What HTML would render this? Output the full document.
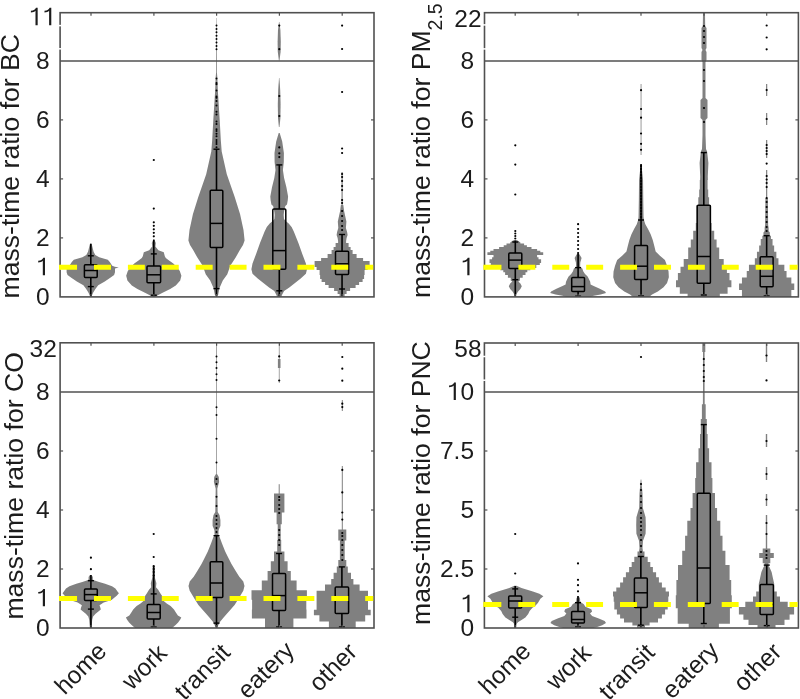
<!DOCTYPE html>
<html><head><meta charset="utf-8"><style>
html,body{margin:0;padding:0;background:#fff;}
svg{display:block;}
.t{font-family:"Liberation Sans",sans-serif;font-size:24.5px;fill:#1c1c1c;-webkit-font-smoothing:antialiased;}
.yl{font-size:26.6px;}
.xl{letter-spacing:0px;}
.sub{font-size:19.5px;}
</style></head><body>
<svg width="800" height="699" viewBox="0 0 800 699">
<rect width="800" height="699" fill="#fff"/>
<g opacity="0.999">
<path d="M90,243.8 L88,251.7 L86.3,255 L82.4,257.3 L73.8,259.7 L71.8,262 L69.4,265.7 L66.8,266.8 L62.8,267.6 L66.6,268.4 L66.6,272.2 L67.5,275 L71.3,277.8 L76.8,281.5 L83.4,285.2 L86.2,289 L88.5,292.7 L90,296.3 L91.6,296.3 L93.1,292.7 L95.4,289 L98.2,285.2 L104.8,281.5 L110.3,277.8 L114.1,275 L115,272.2 L115,268.4 L118.8,267.6 L114.8,266.8 L112.2,265.7 L109.8,262 L107.8,259.7 L99.2,257.3 L95.3,255 L93.6,251.7 L91.6,243.8Z" fill="#808080"/>
<path d="M153,240 L151.8,243 L152.2,246.5 L149.2,250.2 L143.8,252.2 L142.8,256.3 L141.8,258 L139.2,260 L134.3,263.6 L130.8,267 L127.8,270.9 L126.2,275.8 L127.4,280.6 L131.8,285.5 L137.4,289.1 L145,292.8 L149.8,295.2 L151.8,296.5 L155.8,296.5 L157.8,295.2 L162.6,292.8 L170.2,289.1 L175.8,285.5 L180.2,280.6 L181.4,275.8 L179.8,270.9 L176.8,267 L173.3,263.6 L168.4,260 L165.8,258 L164.8,256.3 L163.8,252.2 L158.4,250.2 L155.4,246.5 L155.8,243 L154.6,240Z" fill="#808080"/>
<path d="M216.3,18 L216.1,60.8 L216.1,72.6 L215.6,78 L215.2,90 L214.2,105.8 L213.3,120 L212.2,140 L211.3,151.4 L206.2,174.3 L198.2,197.2 L192.9,214.3 L189.5,230 L188.4,240.6 L190,245 L193,249.7 L197.2,257.2 L202.7,265.8 L205.7,274.3 L210.2,280.6 L213.5,288 L215,295.5 L218,295.5 L219.5,288 L222.8,280.6 L227.3,274.3 L230.3,265.8 L235.8,257.2 L240,249.7 L243,245 L244.6,240.6 L243.5,230 L240.1,214.3 L234.8,197.2 L226.8,174.3 L221.7,151.4 L220.8,140 L219.7,120 L218.8,105.8 L217.8,90 L217.4,78 L216.9,72.6 L216.9,60.8 L216.7,18Z" fill="#808080"/>
<path d="M279,22 L278,30 L277.6,42 L277.8,52 L278.9,60.5 L279.5,60.5 L280.6,52 L280.8,42 L280.4,30 L279.4,22Z" fill="#808080"/>
<path d="M279,78 L278.2,90 L277.8,104 L278,118 L278.9,127 L279.5,127 L280.4,118 L280.6,104 L280.2,90 L279.4,78Z" fill="#808080"/>
<path d="M278.7,133 L276.2,141.4 L274.5,152.9 L274.6,162 L275.5,170 L274.3,178 L272,187.2 L270.3,196.4 L270.6,200 L271.4,204.4 L273.1,206 L273.7,208.6 L274.4,212 L274.7,215 L274.4,219 L272.7,221 L269.7,223.4 L266.8,226.9 L264.6,231.4 L260,242.9 L256,254.3 L252.5,263.5 L251.4,269.2 L252.5,273.8 L257.7,278.4 L263.4,282.9 L269.1,287.5 L274.3,290.9 L276.2,294.4 L277.2,296.9 L281.2,296.9 L282.2,294.4 L284.1,290.9 L289.3,287.5 L295,282.9 L300.7,278.4 L305.9,273.8 L307,269.2 L305.9,263.5 L302.4,254.3 L298.4,242.9 L293.8,231.4 L291.6,226.9 L288.7,223.4 L285.7,221 L284,219 L283.7,215 L284,212 L284.7,208.6 L285.3,206 L287,204.4 L287.8,200 L288.1,196.4 L286.4,187.2 L284.1,178 L282.9,170 L283.8,162 L283.9,152.9 L282.2,141.4 L279.7,133Z" fill="#808080"/>
<rect x="341.5" y="172" width="1.2" height="34" fill="#808080"/>
<path d="M340.9,205 L340,211.4 L337.8,221.5 L338.3,228 L337.1,232 L336.6,235 L337.6,238 L338.1,241 L338.1,241 L338.1,243 L335.6,243 L335.6,247 L333.6,247 L333.6,250 L331.6,250 L331.6,254 L327.6,254 L327.6,258 L321.1,258 L321.1,261 L314.6,261 L314.6,267 L316.6,267 L316.6,270 L319.6,270 L319.6,275 L320.1,275 L320.1,279 L321.6,279 L321.6,282 L325.1,282 L325.1,285 L328.6,285 L328.6,288 L334.1,288 L334.1,291 L337.6,291 L337.6,294 L339.6,294 L339.6,296.9 L344.6,296.9 L344.6,294 L346.6,294 L346.6,291 L350.1,291 L350.1,288 L355.6,288 L355.6,285 L359.1,285 L359.1,282 L362.6,282 L362.6,279 L364.1,279 L364.1,275 L364.6,275 L364.6,270 L367.6,270 L367.6,267 L369.6,267 L369.6,261 L363.1,261 L363.1,258 L356.6,258 L356.6,254 L352.6,254 L352.6,250 L350.6,250 L350.6,247 L348.6,247 L348.6,243 L346.1,243 L346.1,241 L346.1,241 L346.6,238 L347.6,235 L347.1,232 L345.9,228 L346.4,221.5 L344.2,211.4 L343.3,205Z" fill="#808080"/>
<line x1="90.8" y1="243.8" x2="90.8" y2="264.8" stroke="#000" stroke-width="1.6"/>
<line x1="90.8" y1="277.5" x2="90.8" y2="296" stroke="#000" stroke-width="1.6"/>
<line x1="87.8" y1="255.8" x2="93.8" y2="255.8" stroke="#000" stroke-width="1.4"/>
<line x1="87.8" y1="286.6" x2="93.8" y2="286.6" stroke="#000" stroke-width="1.4"/>
<rect x="84.4" y="264.8" width="12.8" height="12.7" rx="1" fill="none" stroke="#000" stroke-width="1.5"/>
<line x1="84.4" y1="270.5" x2="97.2" y2="270.5" stroke="#000" stroke-width="1.5"/>
<line x1="153.8" y1="239.5" x2="153.8" y2="266" stroke="#000" stroke-width="1.6"/>
<line x1="153.8" y1="282.8" x2="153.8" y2="296" stroke="#000" stroke-width="1.6"/>
<line x1="150.8" y1="253.9" x2="156.8" y2="253.9" stroke="#000" stroke-width="1.4"/>
<line x1="150.8" y1="295.2" x2="156.8" y2="295.2" stroke="#000" stroke-width="1.4"/>
<rect x="147" y="266" width="13.6" height="16.8" rx="1" fill="none" stroke="#000" stroke-width="1.5"/>
<line x1="147" y1="274.8" x2="160.6" y2="274.8" stroke="#000" stroke-width="1.5"/>
<line x1="216.5" y1="149.2" x2="216.5" y2="190.3" stroke="#000" stroke-width="1.6"/>
<line x1="216.5" y1="247.5" x2="216.5" y2="296" stroke="#000" stroke-width="1.6"/>
<line x1="213.5" y1="149.2" x2="219.5" y2="149.2" stroke="#000" stroke-width="1.4"/>
<line x1="213.5" y1="288.6" x2="219.5" y2="288.6" stroke="#000" stroke-width="1.4"/>
<rect x="210.2" y="190.3" width="12.6" height="57.2" rx="1" fill="none" stroke="#000" stroke-width="1.5"/>
<line x1="210.2" y1="223.4" x2="222.8" y2="223.4" stroke="#000" stroke-width="1.5"/>
<line x1="279.3" y1="164.9" x2="279.3" y2="208.9" stroke="#000" stroke-width="1.6"/>
<line x1="279.3" y1="269.2" x2="279.3" y2="296" stroke="#000" stroke-width="1.6"/>
<line x1="276.3" y1="164.9" x2="282.3" y2="164.9" stroke="#000" stroke-width="1.4"/>
<line x1="276.3" y1="290.8" x2="282.3" y2="290.8" stroke="#000" stroke-width="1.4"/>
<rect x="272.8" y="208.9" width="13" height="60.3" rx="1" fill="none" stroke="#000" stroke-width="1.5"/>
<line x1="272.8" y1="250.6" x2="285.8" y2="250.6" stroke="#000" stroke-width="1.5"/>
<line x1="342.05" y1="234.5" x2="342.05" y2="251.3" stroke="#000" stroke-width="1.6"/>
<line x1="342.05" y1="274.6" x2="342.05" y2="296" stroke="#000" stroke-width="1.6"/>
<line x1="339.05" y1="234.5" x2="345.05" y2="234.5" stroke="#000" stroke-width="1.4"/>
<line x1="339.05" y1="289" x2="345.05" y2="289" stroke="#000" stroke-width="1.4"/>
<rect x="335.5" y="251.3" width="13.1" height="23.3" rx="1" fill="none" stroke="#000" stroke-width="1.5"/>
<line x1="335.5" y1="263.8" x2="348.6" y2="263.8" stroke="#000" stroke-width="1.5"/>
<circle cx="153.8" cy="160" r="1.1" fill="#000"/>
<circle cx="153.8" cy="208.6" r="1.1" fill="#000"/>
<circle cx="153.8" cy="222.3" r="1.1" fill="#000"/>
<circle cx="153.8" cy="225.8" r="1.1" fill="#000"/>
<circle cx="153.8" cy="229.3" r="1.1" fill="#000"/>
<circle cx="153.8" cy="232.8" r="1.1" fill="#000"/>
<circle cx="153.8" cy="236.3" r="1.1" fill="#000"/>
<circle cx="216.5" cy="25.5" r="1" fill="#000"/>
<circle cx="216.5" cy="28.9" r="1" fill="#000"/>
<circle cx="216.5" cy="32.3" r="1" fill="#000"/>
<circle cx="216.5" cy="35.7" r="1" fill="#000"/>
<circle cx="216.5" cy="39.1" r="1" fill="#000"/>
<circle cx="216.5" cy="42.5" r="1" fill="#000"/>
<circle cx="216.5" cy="45.9" r="1" fill="#000"/>
<circle cx="216.5" cy="49.3" r="1" fill="#000"/>
<circle cx="216.5" cy="78.4" r="1" fill="#000"/>
<circle cx="216.5" cy="82.9" r="1" fill="#000"/>
<circle cx="216.5" cy="84.2" r="1" fill="#000"/>
<circle cx="216.5" cy="90.6" r="1" fill="#000"/>
<circle cx="216.5" cy="96.4" r="1" fill="#000"/>
<circle cx="216.5" cy="97.7" r="1" fill="#000"/>
<circle cx="216.5" cy="100.9" r="1" fill="#000"/>
<circle cx="216.5" cy="105.4" r="1" fill="#000"/>
<circle cx="216.5" cy="111.8" r="1" fill="#000"/>
<circle cx="216.5" cy="114.4" r="1" fill="#000"/>
<circle cx="216.5" cy="121.5" r="1" fill="#000"/>
<circle cx="216.5" cy="124" r="1" fill="#000"/>
<circle cx="216.5" cy="129.2" r="1" fill="#000"/>
<circle cx="216.5" cy="131.1" r="1" fill="#000"/>
<circle cx="216.5" cy="133.7" r="1" fill="#000"/>
<circle cx="216.5" cy="136.3" r="1" fill="#000"/>
<circle cx="216.5" cy="140.1" r="1" fill="#000"/>
<circle cx="216.5" cy="142.1" r="1" fill="#000"/>
<circle cx="216.5" cy="144" r="1" fill="#000"/>
<circle cx="216.5" cy="147.2" r="1" fill="#000"/>
<circle cx="279.3" cy="25.6" r="1.1" fill="#000"/>
<circle cx="279.3" cy="49.2" r="1.1" fill="#000"/>
<circle cx="279.3" cy="96" r="1.1" fill="#000"/>
<circle cx="279.3" cy="116" r="1.1" fill="#000"/>
<circle cx="279.3" cy="147.4" r="1.1" fill="#000"/>
<circle cx="279.3" cy="153.3" r="1.1" fill="#000"/>
<circle cx="279.3" cy="157.1" r="1.1" fill="#000"/>
<circle cx="342.1" cy="25.6" r="1.1" fill="#000"/>
<circle cx="342.1" cy="49" r="1.1" fill="#000"/>
<circle cx="342.1" cy="92" r="1.1" fill="#000"/>
<circle cx="342.1" cy="148.5" r="1.1" fill="#000"/>
<circle cx="342.1" cy="153" r="1.1" fill="#000"/>
<circle cx="342.1" cy="174" r="1.1" fill="#000"/>
<circle cx="342.1" cy="177" r="1.1" fill="#000"/>
<circle cx="342.1" cy="181" r="1.1" fill="#000"/>
<circle cx="342.1" cy="186" r="1.1" fill="#000"/>
<circle cx="342.1" cy="190" r="1.1" fill="#000"/>
<circle cx="342.1" cy="200" r="1.1" fill="#000"/>
<circle cx="342.1" cy="203" r="1.1" fill="#000"/>
<circle cx="342.1" cy="211" r="1.1" fill="#000"/>
<circle cx="342.1" cy="216" r="1.1" fill="#000"/>
<circle cx="342.1" cy="221" r="1.1" fill="#000"/>
<circle cx="342.1" cy="226" r="1.1" fill="#000"/>
<circle cx="342.1" cy="230" r="1.1" fill="#000"/>
<line x1="60.1" y1="60.9" x2="374" y2="60.9" stroke="#505050" stroke-width="1.5"/>
<line x1="60.1" y1="237.9" x2="63.1" y2="237.9" stroke="#505050" stroke-width="1.2"/>
<line x1="374" y1="237.9" x2="371" y2="237.9" stroke="#505050" stroke-width="1.2"/>
<line x1="60.1" y1="178.9" x2="63.1" y2="178.9" stroke="#505050" stroke-width="1.2"/>
<line x1="374" y1="178.9" x2="371" y2="178.9" stroke="#505050" stroke-width="1.2"/>
<line x1="60.1" y1="119.9" x2="63.1" y2="119.9" stroke="#505050" stroke-width="1.2"/>
<line x1="374" y1="119.9" x2="371" y2="119.9" stroke="#505050" stroke-width="1.2"/>
<line x1="91" y1="12.7" x2="91" y2="15.7" stroke="#505050" stroke-width="1.2"/>
<line x1="91" y1="296.9" x2="91" y2="293.9" stroke="#505050" stroke-width="1.2"/>
<line x1="153.9" y1="12.7" x2="153.9" y2="15.7" stroke="#505050" stroke-width="1.2"/>
<line x1="153.9" y1="296.9" x2="153.9" y2="293.9" stroke="#505050" stroke-width="1.2"/>
<line x1="216.6" y1="12.7" x2="216.6" y2="15.7" stroke="#505050" stroke-width="1.2"/>
<line x1="216.6" y1="296.9" x2="216.6" y2="293.9" stroke="#505050" stroke-width="1.2"/>
<line x1="279.4" y1="12.7" x2="279.4" y2="15.7" stroke="#505050" stroke-width="1.2"/>
<line x1="279.4" y1="296.9" x2="279.4" y2="293.9" stroke="#505050" stroke-width="1.2"/>
<line x1="342.2" y1="12.7" x2="342.2" y2="15.7" stroke="#505050" stroke-width="1.2"/>
<line x1="342.2" y1="296.9" x2="342.2" y2="293.9" stroke="#505050" stroke-width="1.2"/>
<rect x="60.1" y="12.7" width="313.9" height="284.2" fill="none" stroke="#505050" stroke-width="1.6"/>
<rect x="59" y="264.8" width="2" height="5" fill="#ffff00"/>
<line x1="60.1" y1="267.3" x2="373.2" y2="267.3" stroke="#ffff00" stroke-width="5" stroke-dasharray="16.95 16.95"/>
<rect x="58.6" y="24.85" width="3" height="1.5" fill="#fff"/>
<rect x="58.6" y="48.05" width="3" height="1.5" fill="#fff"/>
<text x="35.88" y="304.7" class="t">0</text>
<path d="M 44.99,275.2 L 44.99,257.83 L 43.28,257.83 C 42.86,259.4 41.15,260.7 38.21,260.87 L 38.21,262.46 C 40.29,262.46 41.88,261.85 42.81,260.87 L 42.81,275.2 Z" fill="#1c1c1c"/>
<text x="35.88" y="245.7" class="t">2</text>
<text x="35.88" y="186.7" class="t">4</text>
<text x="35.88" y="127.7" class="t">6</text>
<text x="35.88" y="68.6" class="t">8</text>
<path d="M 37.67,25.2 L 37.67,7.83 L 35.95,7.83 C 35.54,9.4 33.82,10.7 30.88,10.87 L 30.88,12.46 C 32.97,12.46 34.56,11.85 35.49,10.87 L 35.49,25.2 Z" fill="#1c1c1c"/>
<path d="M 51.29,25.2 L 51.29,7.83 L 49.58,7.83 C 49.16,9.4 47.45,10.7 44.51,10.87 L 44.51,12.46 C 46.59,12.46 48.18,11.85 49.11,10.87 L 49.11,25.2 Z" fill="#1c1c1c"/>
<text transform="translate(19.3,298.5) rotate(-90)" class="t yl">mass-time ratio for BC</text>
<path d="M514.5,240 L513,240.6 L510.2,242.4 L510.2,243.4 L506.5,243.4 L506.5,245.2 L503.7,245.2 L503.7,247.1 L499.1,247.1 L499.1,249 L493.5,249 L493.5,250.8 L490.3,250.8 L490.3,252.2 L487.4,252.2 L487.4,255 L493.5,255 L493.5,257.3 L492.1,257.3 L492.1,259.2 L489.5,259.2 L489.5,262.9 L490.8,262.9 L490.8,265 L494.3,265 L494.3,268 L500.3,268 L500.3,270.3 L503.3,270.3 L503.3,272.2 L505.1,272.2 L505.1,275 L507.9,275 L507.9,277.8 L510.7,277.8 L510.7,280.6 L512.3,281.5 L510.2,283.4 L508.8,286.2 L510.2,289 L512.7,291.7 L514.3,294.5 L514.7,296.5 L515.9,296.5 L516.3,294.5 L517.9,291.7 L520.4,289 L521.8,286.2 L520.4,283.4 L518.3,281.5 L519.9,280.6 L519.9,277.8 L522.7,277.8 L522.7,275 L525.5,275 L525.5,272.2 L527.3,272.2 L527.3,270.3 L530.3,270.3 L530.3,268 L536.3,268 L536.3,265 L539.8,265 L539.8,262.9 L541.1,262.9 L541.1,259.2 L538.5,259.2 L538.5,257.3 L537.1,257.3 L537.1,255 L543.2,255 L543.2,252.2 L540.3,252.2 L540.3,250.8 L537.1,250.8 L537.1,249 L531.5,249 L531.5,247.1 L526.9,247.1 L526.9,245.2 L524.1,245.2 L524.1,243.4 L520.4,243.4 L520.4,242.4 L517.6,240.6 L516.1,240Z" fill="#808080"/>
<path d="M577.5,253.8 L576.6,254.6 L574.6,258.1 L575.9,262.5 L576.1,266.9 L573.9,268.6 L573,271.2 L571.2,273.9 L568.6,276.5 L567.3,279.1 L566,281.7 L565.6,284.4 L562.5,286.1 L556.4,288.7 L551.1,291.4 L550.2,293.1 L555.5,294.4 L562.5,295.7 L566.1,296.9 L590.1,296.9 L593.7,295.7 L600.7,294.4 L606,293.1 L605.1,291.4 L599.8,288.7 L593.7,286.1 L590.6,284.4 L590.2,281.7 L588.9,279.1 L587.6,276.5 L585,273.9 L583.2,271.2 L582.3,268.6 L580.1,266.9 L580.3,262.5 L581.6,258.1 L579.6,254.6 L578.7,253.8Z" fill="#808080"/>
<path d="M640.75,164 L639.05,180 L638.85,200 L638.55,217 L638.15,220 L636.75,224.3 L634.35,228.6 L631.45,234.3 L629.35,240.1 L627.85,245.8 L626.45,251.5 L622.15,255.8 L617.15,260.1 L615.05,265.8 L613.55,271.5 L613.25,277.3 L615.05,283 L618.55,287.3 L624.25,291.6 L630.05,294.4 L633.05,296.9 L649.05,296.9 L652.05,294.4 L657.85,291.6 L663.55,287.3 L667.05,283 L668.85,277.3 L668.55,271.5 L667.05,265.8 L664.95,260.1 L659.95,255.8 L655.65,251.5 L654.25,245.8 L652.75,240.1 L650.65,234.3 L647.75,228.6 L645.35,224.3 L643.95,220 L643.55,217 L643.25,200 L643.05,180 L641.35,164Z" fill="#808080"/>
<path d="M703,13 L702.8,26 L701.5,28 L701.5,48 L702.5,50 L701.5,52 L701.5,60 L702.5,62 L702.5,98 L700.5,100 L700.5,118 L702.5,120 L702.5,135 L702,149 L700.9,151.4 L699.6,162.9 L700.2,176.6 L700.1,180 L707.9,180 L707.8,176.6 L708.4,162.9 L707.1,151.4 L706,149 L705.5,135 L705.5,120 L707.5,118 L707.5,100 L705.5,98 L705.5,62 L706.5,60 L706.5,52 L705.5,50 L706.5,48 L706.5,28 L705.2,26 L705,13Z" fill="#808080"/>
<path d="M699.8,180 L699.8,189.5 L699.2,189.5 L699.2,197.2 L698.3,197.2 L698.3,205 L696.6,205 L696.6,223 L695.8,223 L695.8,230.7 L693.2,230.7 L693.2,239.6 L690.8,239.6 L690.8,247.4 L688.2,247.4 L688.2,259 L683.7,259 L683.7,266.7 L680.5,266.7 L680.5,273.1 L677.9,273.1 L677.9,280.2 L676,280.2 L676,287.3 L679.8,287.3 L679.8,293.8 L687.6,293.8 L687.6,296.9 L719.8,296.9 L719.8,293.8 L727.6,293.8 L727.6,287.3 L731.4,287.3 L731.4,280.2 L729.5,280.2 L729.5,273.1 L726.9,273.1 L726.9,266.7 L723.7,266.7 L723.7,259 L719.2,259 L719.2,247.4 L716.6,247.4 L716.6,239.6 L714.2,239.6 L714.2,230.7 L711.6,230.7 L711.6,223 L710.8,223 L710.8,205 L709.1,205 L709.1,197.2 L708.2,197.2 L708.2,189.5 L707.6,189.5 L707.6,180Z" fill="#808080"/>
<rect x="766.05" y="84" width="1.2" height="12" fill="#808080"/>
<rect x="766.05" y="113" width="1.2" height="12" fill="#808080"/>
<rect x="766.05" y="140" width="1.2" height="18" fill="#808080"/>
<rect x="766.05" y="170" width="1.2" height="30" fill="#808080"/>
<path d="M765.45,197.9 L765.15,225 L764.65,228 L764.65,231 L763.45,232.5 L763.45,235.7 L762.35,235.7 L762.35,239 L760.75,239 L760.75,245.4 L759.15,245.4 L759.15,251.8 L756.95,251.8 L756.95,258.3 L754.85,258.3 L754.85,264.7 L748.95,264.7 L748.95,271.1 L746.75,271.1 L746.75,277.6 L741.95,277.6 L741.95,283.5 L739.05,283.5 L739.05,289.9 L741.95,289.9 L741.95,296.9 L791.35,296.9 L791.35,289.9 L794.25,289.9 L794.25,283.5 L791.35,283.5 L791.35,277.6 L786.55,277.6 L786.55,271.1 L784.35,271.1 L784.35,264.7 L778.45,264.7 L778.45,258.3 L776.35,258.3 L776.35,251.8 L774.15,251.8 L774.15,245.4 L772.55,245.4 L772.55,239 L770.95,239 L770.95,235.7 L769.85,235.7 L769.85,232.5 L768.65,231 L768.65,228 L768.15,225 L767.85,197.9Z" fill="#808080"/>
<line x1="515.3" y1="240.6" x2="515.3" y2="253.1" stroke="#000" stroke-width="1.6"/>
<line x1="515.3" y1="268.5" x2="515.3" y2="296" stroke="#000" stroke-width="1.6"/>
<line x1="512.3" y1="242" x2="518.3" y2="242" stroke="#000" stroke-width="1.4"/>
<line x1="512.3" y1="279.7" x2="518.3" y2="279.7" stroke="#000" stroke-width="1.4"/>
<rect x="508.8" y="253.1" width="13" height="15.4" rx="1" fill="none" stroke="#000" stroke-width="1.5"/>
<line x1="508.8" y1="260.1" x2="521.8" y2="260.1" stroke="#000" stroke-width="1.5"/>
<line x1="578.1" y1="253.8" x2="578.1" y2="277.5" stroke="#000" stroke-width="1.6"/>
<line x1="578.1" y1="291.4" x2="578.1" y2="296.5" stroke="#000" stroke-width="1.6"/>
<line x1="575.1" y1="267.6" x2="581.1" y2="267.6" stroke="#000" stroke-width="1.4"/>
<line x1="575.1" y1="296.2" x2="581.1" y2="296.2" stroke="#000" stroke-width="1.4"/>
<rect x="571.7" y="277.5" width="12.8" height="13.9" rx="1" fill="none" stroke="#000" stroke-width="1.5"/>
<line x1="571.7" y1="286.6" x2="584.5" y2="286.6" stroke="#000" stroke-width="1.5"/>
<line x1="641.05" y1="164" x2="641.05" y2="245.5" stroke="#000" stroke-width="1.6"/>
<line x1="641.05" y1="279.4" x2="641.05" y2="296" stroke="#000" stroke-width="1.6"/>
<line x1="638.05" y1="220" x2="644.05" y2="220" stroke="#000" stroke-width="1.4"/>
<line x1="638.05" y1="296" x2="644.05" y2="296" stroke="#000" stroke-width="1.4"/>
<rect x="634.6" y="245.5" width="12.9" height="33.9" rx="1" fill="none" stroke="#000" stroke-width="1.5"/>
<line x1="634.6" y1="266.2" x2="647.5" y2="266.2" stroke="#000" stroke-width="1.5"/>
<line x1="703.8" y1="152.6" x2="703.8" y2="205.2" stroke="#000" stroke-width="1.6"/>
<line x1="703.8" y1="283.3" x2="703.8" y2="296" stroke="#000" stroke-width="1.6"/>
<line x1="700.8" y1="152.6" x2="706.8" y2="152.6" stroke="#000" stroke-width="1.4"/>
<line x1="700.8" y1="295" x2="706.8" y2="295" stroke="#000" stroke-width="1.4"/>
<rect x="697.2" y="205.2" width="13.2" height="78.1" rx="1" fill="none" stroke="#000" stroke-width="1.5"/>
<line x1="697.2" y1="256.5" x2="710.4" y2="256.5" stroke="#000" stroke-width="1.5"/>
<line x1="766.65" y1="235.7" x2="766.65" y2="256.7" stroke="#000" stroke-width="1.6"/>
<line x1="766.65" y1="286.7" x2="766.65" y2="296" stroke="#000" stroke-width="1.6"/>
<line x1="763.65" y1="235.7" x2="769.65" y2="235.7" stroke="#000" stroke-width="1.4"/>
<line x1="763.65" y1="296" x2="769.65" y2="296" stroke="#000" stroke-width="1.4"/>
<rect x="760.2" y="256.7" width="12.9" height="30" rx="1" fill="none" stroke="#000" stroke-width="1.5"/>
<line x1="760.2" y1="276.3" x2="773.1" y2="276.3" stroke="#000" stroke-width="1.5"/>
<circle cx="515.3" cy="145.3" r="1.1" fill="#000"/>
<circle cx="515.3" cy="164.6" r="1.1" fill="#000"/>
<circle cx="515.3" cy="194.5" r="1.1" fill="#000"/>
<circle cx="515.3" cy="231" r="1.1" fill="#000"/>
<circle cx="515.3" cy="233.5" r="1.1" fill="#000"/>
<circle cx="515.3" cy="236" r="1.1" fill="#000"/>
<circle cx="515.3" cy="238.5" r="1.1" fill="#000"/>
<circle cx="578.1" cy="224.2" r="1.1" fill="#000"/>
<circle cx="578.1" cy="229" r="1.1" fill="#000"/>
<circle cx="578.1" cy="233" r="1.1" fill="#000"/>
<circle cx="578.1" cy="237" r="1.1" fill="#000"/>
<circle cx="578.1" cy="241" r="1.1" fill="#000"/>
<circle cx="578.1" cy="245" r="1.1" fill="#000"/>
<circle cx="578.1" cy="249" r="1.1" fill="#000"/>
<circle cx="578.1" cy="253" r="1.1" fill="#000"/>
<rect x="640.65" y="84" width="0.8" height="71" fill="#808080"/>
<circle cx="641.05" cy="90.2" r="1.1" fill="#000"/>
<circle cx="641.05" cy="109" r="1.1" fill="#000"/>
<circle cx="641.05" cy="117.7" r="1.1" fill="#000"/>
<circle cx="641.05" cy="133.5" r="1.1" fill="#000"/>
<circle cx="641.05" cy="143.8" r="1.1" fill="#000"/>
<circle cx="641.05" cy="149.8" r="1.1" fill="#000"/>
<circle cx="641.05" cy="166" r="1.1" fill="#000"/>
<circle cx="641.05" cy="169" r="1.1" fill="#000"/>
<circle cx="641.05" cy="172" r="1.1" fill="#000"/>
<circle cx="641.05" cy="175" r="1.1" fill="#000"/>
<circle cx="641.05" cy="178" r="1.1" fill="#000"/>
<circle cx="641.05" cy="181" r="1.1" fill="#000"/>
<circle cx="641.05" cy="184" r="1.1" fill="#000"/>
<circle cx="641.05" cy="187" r="1.1" fill="#000"/>
<circle cx="641.05" cy="190" r="1.1" fill="#000"/>
<circle cx="641.05" cy="193" r="1.1" fill="#000"/>
<circle cx="641.05" cy="196" r="1.1" fill="#000"/>
<circle cx="641.05" cy="199" r="1.1" fill="#000"/>
<circle cx="641.05" cy="202" r="1.1" fill="#000"/>
<circle cx="641.05" cy="205" r="1.1" fill="#000"/>
<circle cx="641.05" cy="208" r="1.1" fill="#000"/>
<circle cx="641.05" cy="211" r="1.1" fill="#000"/>
<circle cx="641.05" cy="214" r="1.1" fill="#000"/>
<circle cx="641.05" cy="217" r="1.1" fill="#000"/>
<circle cx="704" cy="26" r="1.1" fill="#000"/>
<circle cx="704" cy="31" r="1.1" fill="#000"/>
<circle cx="704" cy="37" r="1.1" fill="#000"/>
<circle cx="704" cy="43" r="1.1" fill="#000"/>
<circle cx="704" cy="70" r="1.1" fill="#000"/>
<circle cx="704" cy="81" r="1.1" fill="#000"/>
<circle cx="704" cy="108" r="1.1" fill="#000"/>
<circle cx="704" cy="122" r="1.1" fill="#000"/>
<circle cx="766.65" cy="25.5" r="1.1" fill="#000"/>
<circle cx="766.65" cy="37.5" r="1.1" fill="#000"/>
<circle cx="766.65" cy="49.3" r="1.1" fill="#000"/>
<circle cx="766.65" cy="90" r="1.1" fill="#000"/>
<circle cx="766.65" cy="119" r="1.1" fill="#000"/>
<circle cx="766.65" cy="145" r="1.1" fill="#000"/>
<circle cx="766.65" cy="148" r="1.1" fill="#000"/>
<circle cx="766.65" cy="151" r="1.1" fill="#000"/>
<circle cx="766.65" cy="154" r="1.1" fill="#000"/>
<circle cx="766.65" cy="163.6" r="1.1" fill="#000"/>
<circle cx="766.65" cy="176" r="1.1" fill="#000"/>
<circle cx="766.65" cy="179.5" r="1.1" fill="#000"/>
<circle cx="766.65" cy="183" r="1.1" fill="#000"/>
<circle cx="766.65" cy="187" r="1.1" fill="#000"/>
<circle cx="766.65" cy="198" r="1.1" fill="#000"/>
<circle cx="766.65" cy="202" r="1.1" fill="#000"/>
<circle cx="766.65" cy="207" r="1.1" fill="#000"/>
<circle cx="766.65" cy="212" r="1.1" fill="#000"/>
<circle cx="766.65" cy="217" r="1.1" fill="#000"/>
<circle cx="766.65" cy="222" r="1.1" fill="#000"/>
<circle cx="766.65" cy="227" r="1.1" fill="#000"/>
<circle cx="766.65" cy="231" r="1.1" fill="#000"/>
<line x1="484.5" y1="60.9" x2="798.4" y2="60.9" stroke="#505050" stroke-width="1.5"/>
<line x1="484.5" y1="237.9" x2="487.5" y2="237.9" stroke="#505050" stroke-width="1.2"/>
<line x1="798.4" y1="237.9" x2="795.4" y2="237.9" stroke="#505050" stroke-width="1.2"/>
<line x1="484.5" y1="178.9" x2="487.5" y2="178.9" stroke="#505050" stroke-width="1.2"/>
<line x1="798.4" y1="178.9" x2="795.4" y2="178.9" stroke="#505050" stroke-width="1.2"/>
<line x1="484.5" y1="119.9" x2="487.5" y2="119.9" stroke="#505050" stroke-width="1.2"/>
<line x1="798.4" y1="119.9" x2="795.4" y2="119.9" stroke="#505050" stroke-width="1.2"/>
<line x1="515.2" y1="12.7" x2="515.2" y2="15.7" stroke="#505050" stroke-width="1.2"/>
<line x1="515.2" y1="296.9" x2="515.2" y2="293.9" stroke="#505050" stroke-width="1.2"/>
<line x1="578.1" y1="12.7" x2="578.1" y2="15.7" stroke="#505050" stroke-width="1.2"/>
<line x1="578.1" y1="296.9" x2="578.1" y2="293.9" stroke="#505050" stroke-width="1.2"/>
<line x1="641" y1="12.7" x2="641" y2="15.7" stroke="#505050" stroke-width="1.2"/>
<line x1="641" y1="296.9" x2="641" y2="293.9" stroke="#505050" stroke-width="1.2"/>
<line x1="704" y1="12.7" x2="704" y2="15.7" stroke="#505050" stroke-width="1.2"/>
<line x1="704" y1="296.9" x2="704" y2="293.9" stroke="#505050" stroke-width="1.2"/>
<line x1="766.7" y1="12.7" x2="766.7" y2="15.7" stroke="#505050" stroke-width="1.2"/>
<line x1="766.7" y1="296.9" x2="766.7" y2="293.9" stroke="#505050" stroke-width="1.2"/>
<rect x="484.5" y="12.7" width="313.9" height="284.2" fill="none" stroke="#505050" stroke-width="1.6"/>
<rect x="483.4" y="264.8" width="2" height="5" fill="#ffff00"/>
<line x1="484.5" y1="267.3" x2="797.6" y2="267.3" stroke="#ffff00" stroke-width="5" stroke-dasharray="16.95 16.95"/>
<rect x="483" y="24.15" width="3" height="1.5" fill="#fff"/>
<rect x="483" y="48.15" width="3" height="1.5" fill="#fff"/>
<text x="460.38" y="304.7" class="t">0</text>
<path d="M 469.49,275.2 L 469.49,257.83 L 467.78,257.83 C 467.36,259.4 465.65,260.7 462.71,260.87 L 462.71,262.46 C 464.79,262.46 466.38,261.85 467.31,260.87 L 467.31,275.2 Z" fill="#1c1c1c"/>
<text x="460.38" y="245.7" class="t">2</text>
<text x="460.38" y="186.7" class="t">4</text>
<text x="460.38" y="127.7" class="t">6</text>
<text x="460.38" y="68.6" class="t">8</text>
<text x="454.26" y="26.5" class="t">2</text>
<text x="467.88" y="26.5" class="t">2</text>
<text transform="translate(429.6,297.9) rotate(-90)" class="t yl">mass-time ratio for PM<tspan class="sub" dy="12.8">2.5</tspan></text>
<path d="M89.7,575.2 L88.6,577 L88.6,579.4 L87.5,580.3 L82.3,582 L76.3,583.7 L69.4,586.3 L66,588.5 L63.9,591.5 L62.5,593.2 L64.7,595.8 L69.9,600 L77.7,602.6 L81.9,605.2 L81,607.8 L80.6,609.5 L82.7,611.2 L85.8,613.8 L88.3,616.4 L89.2,619.8 L89.9,628 L91.5,628 L92.2,619.8 L93.1,616.4 L95.6,613.8 L98.7,611.2 L100.8,609.5 L100.4,607.8 L99.5,605.2 L103.7,602.6 L111.5,600 L116.7,595.8 L118.9,593.2 L117.5,591.5 L115.4,588.5 L112,586.3 L105.1,583.7 L99.1,582 L93.9,580.3 L92.8,579.4 L92.8,577 L91.7,575.2Z" fill="#808080"/>
<path d="M152.8,566 L152.6,576 L152.1,578.6 L150.8,583.3 L151.2,587.2 L149,589.7 L146.9,593.2 L145.2,595.8 L143.5,600.9 L140.5,603.5 L136.6,606.1 L133.2,609.5 L131,612.9 L129.3,615.5 L125.9,617.6 L127.1,619.8 L129.1,622.4 L131.6,625 L135.1,628 L172.1,628 L175.6,625 L178.1,622.4 L180.1,619.8 L181.3,617.6 L177.9,615.5 L176.2,612.9 L174,609.5 L170.6,606.1 L166.7,603.5 L163.7,600.9 L162,595.8 L160.3,593.2 L158.2,589.7 L156,587.2 L156.4,583.3 L155.1,578.6 L154.6,576 L154.4,566Z" fill="#808080"/>
<rect x="216.15" y="343" width="0.7" height="133" fill="#808080"/>
<path d="M216,474 L214.2,477 L213.9,482 L215.7,488.8 L215.5,500 L215.3,512 L213.5,515 L212.6,520 L212.6,526 L214,529 L214.5,531 L214.5,535.7 L213.3,537.3 L211,543.6 L207.8,551.5 L204.7,557.8 L201.5,564.1 L197.6,570.4 L193.7,576.7 L189.7,581.4 L188.5,586.1 L189.7,590.8 L194.5,598.7 L198.4,605 L203.9,611.3 L209.4,617.6 L213.3,622.3 L215.5,627 L217.5,627 L219.7,622.3 L223.6,617.6 L229.1,611.3 L234.6,605 L238.5,598.7 L243.3,590.8 L244.5,586.1 L243.3,581.4 L239.3,576.7 L235.4,570.4 L231.5,564.1 L228.3,557.8 L225.2,551.5 L222,543.6 L219.7,537.3 L218.5,535.7 L218.5,531 L219,529 L220.4,526 L220.4,520 L219.5,515 L217.7,512 L217.5,500 L217.3,488.8 L219.1,482 L218.8,477 L217,474Z" fill="#808080"/>
<rect x="278.85" y="343" width="0.7" height="40" fill="#808080"/>
<rect x="277.9" y="359" width="2.6" height="9" fill="#808080"/>
<rect x="278.7" y="484.2" width="1" height="9.8" fill="#808080"/>
<path d="M274,493.6 L274,512.5 L276.6,512.5 L276.6,524.2 L277.7,524.2 L277.7,540 L277.2,540 L277.2,551.6 L274,551.6 L274,561.2 L270.8,561.2 L270.8,570.9 L267.6,570.9 L267.6,580.5 L261.8,580.5 L261.8,590.2 L251.5,590.2 L251.5,599.8 L252.1,599.8 L252.1,609.5 L251.9,609.5 L251.9,618.5 L265,618.5 L265,628 L293.4,628 L293.4,618.5 L306.5,618.5 L306.5,609.5 L306.3,609.5 L306.3,599.8 L306.9,599.8 L306.9,590.2 L296.6,590.2 L296.6,580.5 L290.8,580.5 L290.8,570.9 L287.6,570.9 L287.6,561.2 L284.4,561.2 L284.4,551.6 L281.2,551.6 L281.2,540 L280.7,540 L280.7,524.2 L281.8,524.2 L281.8,512.5 L284.4,512.5 L284.4,493.6Z" fill="#808080"/>
<rect x="341.8" y="466" width="1" height="64" fill="#808080"/>
<rect x="341.8" y="400" width="1" height="11" fill="#808080"/>
<path d="M338.3,529.4 L338.3,540.5 L339.9,540.5 L339.9,560.1 L338.3,560.1 L338.3,566.4 L336.8,566.4 L336.8,572.7 L333.6,572.7 L333.6,579 L331.2,579 L331.2,584.5 L325,584.5 L325,590.8 L316.6,590.8 L316.6,609.7 L313.9,609.7 L313.9,615.2 L319.4,615.2 L319.4,621.5 L328.9,621.5 L328.9,628 L355.7,628 L355.7,621.5 L365.2,621.5 L365.2,615.2 L370.7,615.2 L370.7,609.7 L368,609.7 L368,590.8 L359.6,590.8 L359.6,584.5 L353.4,584.5 L353.4,579 L351,579 L351,572.7 L347.8,572.7 L347.8,566.4 L346.3,566.4 L346.3,560.1 L344.7,560.1 L344.7,540.5 L346.3,540.5 L346.3,529.4Z" fill="#808080"/>
<line x1="90.9" y1="575" x2="90.9" y2="588.9" stroke="#000" stroke-width="1.6"/>
<line x1="90.9" y1="600.5" x2="90.9" y2="628" stroke="#000" stroke-width="1.6"/>
<line x1="87.9" y1="580.7" x2="93.9" y2="580.7" stroke="#000" stroke-width="1.4"/>
<line x1="87.9" y1="609.1" x2="93.9" y2="609.1" stroke="#000" stroke-width="1.4"/>
<rect x="84.5" y="588.9" width="12.8" height="11.6" rx="1" fill="none" stroke="#000" stroke-width="1.5"/>
<line x1="84.5" y1="594.6" x2="97.3" y2="594.6" stroke="#000" stroke-width="1.5"/>
<line x1="153.7" y1="566" x2="153.7" y2="604.5" stroke="#000" stroke-width="1.6"/>
<line x1="153.7" y1="619.1" x2="153.7" y2="628" stroke="#000" stroke-width="1.6"/>
<line x1="150.7" y1="593.9" x2="156.7" y2="593.9" stroke="#000" stroke-width="1.4"/>
<line x1="150.7" y1="627.1" x2="156.7" y2="627.1" stroke="#000" stroke-width="1.4"/>
<rect x="147.2" y="604.5" width="13" height="14.6" rx="1" fill="none" stroke="#000" stroke-width="1.5"/>
<line x1="147.2" y1="612.5" x2="160.2" y2="612.5" stroke="#000" stroke-width="1.5"/>
<line x1="216.5" y1="535.7" x2="216.5" y2="561.7" stroke="#000" stroke-width="1.6"/>
<line x1="216.5" y1="597.4" x2="216.5" y2="628" stroke="#000" stroke-width="1.6"/>
<line x1="213.5" y1="535.7" x2="219.5" y2="535.7" stroke="#000" stroke-width="1.4"/>
<line x1="213.5" y1="623.1" x2="219.5" y2="623.1" stroke="#000" stroke-width="1.4"/>
<rect x="210.2" y="561.7" width="12.6" height="35.7" rx="1" fill="none" stroke="#000" stroke-width="1.5"/>
<line x1="210.2" y1="583" x2="222.8" y2="583" stroke="#000" stroke-width="1.5"/>
<line x1="279.05" y1="553.5" x2="279.05" y2="573.5" stroke="#000" stroke-width="1.6"/>
<line x1="279.05" y1="610.5" x2="279.05" y2="628" stroke="#000" stroke-width="1.6"/>
<line x1="276.05" y1="553.5" x2="282.05" y2="553.5" stroke="#000" stroke-width="1.4"/>
<line x1="276.05" y1="627" x2="282.05" y2="627" stroke="#000" stroke-width="1.4"/>
<rect x="272.5" y="573.5" width="13.1" height="37" rx="1" fill="none" stroke="#000" stroke-width="1.5"/>
<line x1="272.5" y1="595.6" x2="285.6" y2="595.6" stroke="#000" stroke-width="1.5"/>
<line x1="341.9" y1="566.9" x2="341.9" y2="586.9" stroke="#000" stroke-width="1.6"/>
<line x1="341.9" y1="613.6" x2="341.9" y2="628" stroke="#000" stroke-width="1.6"/>
<line x1="338.9" y1="566.9" x2="344.9" y2="566.9" stroke="#000" stroke-width="1.4"/>
<line x1="338.9" y1="627" x2="344.9" y2="627" stroke="#000" stroke-width="1.4"/>
<rect x="335.2" y="586.9" width="13.4" height="26.7" rx="1" fill="none" stroke="#000" stroke-width="1.5"/>
<line x1="335.2" y1="598.2" x2="348.6" y2="598.2" stroke="#000" stroke-width="1.5"/>
<circle cx="90.9" cy="557.7" r="1.1" fill="#000"/>
<circle cx="90.9" cy="569.2" r="1.1" fill="#000"/>
<circle cx="153.7" cy="534" r="1.1" fill="#000"/>
<circle cx="153.7" cy="557" r="1.1" fill="#000"/>
<circle cx="153.7" cy="566" r="1.1" fill="#000"/>
<circle cx="153.7" cy="569" r="1.1" fill="#000"/>
<circle cx="153.7" cy="572" r="1.1" fill="#000"/>
<circle cx="153.7" cy="575.5" r="1.1" fill="#000"/>
<circle cx="216.5" cy="356.6" r="1" fill="#000"/>
<circle cx="216.5" cy="362.3" r="1" fill="#000"/>
<circle cx="216.5" cy="368" r="1" fill="#000"/>
<circle cx="216.5" cy="374.3" r="1" fill="#000"/>
<circle cx="216.5" cy="380" r="1" fill="#000"/>
<circle cx="216.5" cy="407.2" r="1" fill="#000"/>
<circle cx="216.5" cy="415" r="1" fill="#000"/>
<circle cx="216.5" cy="438.7" r="1" fill="#000"/>
<circle cx="216.5" cy="462.5" r="1" fill="#000"/>
<circle cx="216.5" cy="479" r="1" fill="#000"/>
<circle cx="216.5" cy="484" r="1" fill="#000"/>
<circle cx="216.5" cy="496.8" r="1" fill="#000"/>
<circle cx="216.5" cy="506" r="1" fill="#000"/>
<circle cx="216.5" cy="516" r="1" fill="#000"/>
<circle cx="216.5" cy="520" r="1" fill="#000"/>
<circle cx="216.5" cy="524" r="1" fill="#000"/>
<circle cx="216.5" cy="528" r="1" fill="#000"/>
<circle cx="216.5" cy="532" r="1" fill="#000"/>
<circle cx="279.2" cy="356.4" r="1.1" fill="#000"/>
<circle cx="279.2" cy="380.5" r="1.1" fill="#000"/>
<circle cx="279.2" cy="497" r="1.1" fill="#000"/>
<circle cx="279.2" cy="500" r="1.1" fill="#000"/>
<circle cx="279.2" cy="505" r="1.1" fill="#000"/>
<circle cx="279.2" cy="509" r="1.1" fill="#000"/>
<circle cx="279.2" cy="513" r="1.1" fill="#000"/>
<circle cx="279.2" cy="530" r="1.1" fill="#000"/>
<circle cx="279.2" cy="535" r="1.1" fill="#000"/>
<circle cx="279.2" cy="540" r="1.1" fill="#000"/>
<circle cx="279.2" cy="545" r="1.1" fill="#000"/>
<circle cx="342.3" cy="357" r="1.1" fill="#000"/>
<circle cx="342.3" cy="368.7" r="1.1" fill="#000"/>
<circle cx="342.3" cy="380.7" r="1.1" fill="#000"/>
<circle cx="342.3" cy="403.7" r="1.1" fill="#000"/>
<circle cx="342.3" cy="407.1" r="1.1" fill="#000"/>
<circle cx="342.3" cy="469.9" r="1.1" fill="#000"/>
<circle cx="342.3" cy="492.4" r="1.1" fill="#000"/>
<circle cx="342.3" cy="512.5" r="1.1" fill="#000"/>
<circle cx="342.3" cy="519.6" r="1.1" fill="#000"/>
<circle cx="342.3" cy="533" r="1.1" fill="#000"/>
<circle cx="342.3" cy="536" r="1.1" fill="#000"/>
<circle cx="342.3" cy="540" r="1.1" fill="#000"/>
<circle cx="342.3" cy="545" r="1.1" fill="#000"/>
<circle cx="342.3" cy="550" r="1.1" fill="#000"/>
<circle cx="342.3" cy="555" r="1.1" fill="#000"/>
<circle cx="342.3" cy="560" r="1.1" fill="#000"/>
<line x1="60.1" y1="391.9" x2="374" y2="391.9" stroke="#505050" stroke-width="1.5"/>
<line x1="60.1" y1="569" x2="63.1" y2="569" stroke="#505050" stroke-width="1.2"/>
<line x1="374" y1="569" x2="371" y2="569" stroke="#505050" stroke-width="1.2"/>
<line x1="60.1" y1="510" x2="63.1" y2="510" stroke="#505050" stroke-width="1.2"/>
<line x1="374" y1="510" x2="371" y2="510" stroke="#505050" stroke-width="1.2"/>
<line x1="60.1" y1="451" x2="63.1" y2="451" stroke="#505050" stroke-width="1.2"/>
<line x1="374" y1="451" x2="371" y2="451" stroke="#505050" stroke-width="1.2"/>
<line x1="91" y1="342.8" x2="91" y2="345.8" stroke="#505050" stroke-width="1.2"/>
<line x1="91" y1="628" x2="91" y2="625" stroke="#505050" stroke-width="1.2"/>
<line x1="153.9" y1="342.8" x2="153.9" y2="345.8" stroke="#505050" stroke-width="1.2"/>
<line x1="153.9" y1="628" x2="153.9" y2="625" stroke="#505050" stroke-width="1.2"/>
<line x1="216.6" y1="342.8" x2="216.6" y2="345.8" stroke="#505050" stroke-width="1.2"/>
<line x1="216.6" y1="628" x2="216.6" y2="625" stroke="#505050" stroke-width="1.2"/>
<line x1="279.4" y1="342.8" x2="279.4" y2="345.8" stroke="#505050" stroke-width="1.2"/>
<line x1="279.4" y1="628" x2="279.4" y2="625" stroke="#505050" stroke-width="1.2"/>
<line x1="342.2" y1="342.8" x2="342.2" y2="345.8" stroke="#505050" stroke-width="1.2"/>
<line x1="342.2" y1="628" x2="342.2" y2="625" stroke="#505050" stroke-width="1.2"/>
<rect x="60.1" y="342.8" width="313.9" height="285.2" fill="none" stroke="#505050" stroke-width="1.6"/>
<rect x="59" y="596" width="2" height="5" fill="#ffff00"/>
<line x1="60.1" y1="598.5" x2="373.2" y2="598.5" stroke="#ffff00" stroke-width="5" stroke-dasharray="16.95 16.95"/>
<text x="35.88" y="635.8" class="t">0</text>
<path d="M 44.99,606.3 L 44.99,588.93 L 43.28,588.93 C 42.86,590.5 41.15,591.8 38.21,591.97 L 38.21,593.56 C 40.29,593.56 41.88,592.95 42.81,591.97 L 42.81,606.3 Z" fill="#1c1c1c"/>
<text x="35.88" y="576.8" class="t">2</text>
<text x="35.88" y="517.8" class="t">4</text>
<text x="35.88" y="458.8" class="t">6</text>
<text x="35.88" y="399.7" class="t">8</text>
<text x="29.56" y="356.5" class="t">3</text>
<text x="43.18" y="356.5" class="t">2</text>
<text transform="translate(23.1,619.6) rotate(-90)" class="t yl">mass-time ratio for CO</text>
<path d="M514.4,585.7 L509.3,588.1 L503.6,589.8 L497.9,591.4 L491.4,593.8 L487.4,596.3 L490.4,598.7 L492.9,603 L496.4,606.8 L498.1,607.6 L501.2,610.9 L502.6,614.1 L505.4,617.4 L508.9,619.8 L512.9,622.3 L514.2,624 L514.6,628 L516.2,628 L516.6,624 L517.9,622.3 L521.9,619.8 L525.4,617.4 L528.2,614.1 L529.6,610.9 L532.7,607.6 L534.4,606.8 L537.9,603 L540.4,598.7 L543.4,596.3 L539.4,593.8 L532.9,591.4 L527.2,589.8 L521.5,588.1 L516.4,585.7Z" fill="#808080"/>
<path d="M577.4,596.5 L576.3,598.7 L576.3,600.9 L575.2,602.6 L572.6,604.2 L571,606.8 L565.1,609.3 L564.3,611.4 L566.4,613.5 L564.3,616 L557.6,618.5 L551.7,621 L550.4,623.1 L554.2,625.2 L559.2,626.9 L563.2,628 L593.2,628 L597.2,626.9 L602.2,625.2 L606,623.1 L604.7,621 L598.8,618.5 L592.1,616 L590,613.5 L592.1,611.4 L591.3,609.3 L585.4,606.8 L583.8,604.2 L581.2,602.6 L580.1,600.9 L580.1,598.7 L579,596.5Z" fill="#808080"/>
<path d="M640.7,479.4 L639.5,493.6 L639.2,507.7 L636.4,517.2 L636.2,525 L636.4,533.7 L639,540.8 L639.5,548 L639,551.6 L637.5,551.6 L637.5,556.7 L634.3,556.7 L634.3,561.9 L631.7,561.9 L631.7,567 L629.1,567 L629.1,572.2 L625.9,572.2 L625.9,577.3 L623.1,577.3 L623.1,582.5 L620.1,582.5 L620.1,587.6 L616.3,587.6 L616.3,591.5 L613,591.5 L613,596.6 L613.7,596.6 L613.7,601.8 L614.3,601.8 L614.3,609.5 L616.9,609.5 L616.9,614.6 L620.1,614.6 L620.1,618.5 L624,618.5 L624,622.4 L632.4,622.4 L632.4,625.6 L637,625.6 L637,628 L645,628 L645,625.6 L649.6,625.6 L649.6,622.4 L658,622.4 L658,618.5 L661.9,618.5 L661.9,614.6 L665.1,614.6 L665.1,609.5 L667.7,609.5 L667.7,601.8 L668.3,601.8 L668.3,596.6 L669,596.6 L669,591.5 L665.7,591.5 L665.7,587.6 L661.9,587.6 L661.9,582.5 L658.9,582.5 L658.9,577.3 L656.1,577.3 L656.1,572.2 L652.9,572.2 L652.9,567 L650.3,567 L650.3,561.9 L647.7,561.9 L647.7,556.7 L644.5,556.7 L644.5,551.6 L643,551.6 L642.5,548 L643,540.8 L645.6,533.7 L645.8,525 L645.6,517.2 L642.8,507.7 L642.5,493.6 L641.3,479.4Z" fill="#808080"/>
<path d="M702.3,343 L702.3,352 L703,352 L703,392.4 L702.9,392.4 L702.9,404.2 L701.9,404.2 L701.9,419.1 L700.8,419.1 L700.8,434 L700,434 L700,448.2 L698.5,448.2 L698.5,462.3 L696.1,462.3 L696.1,478 L695.2,478 L695.2,492.9 L692.6,492.9 L692.6,507.9 L690.5,507.9 L690.5,520.8 L687.3,520.8 L687.3,535.8 L685.1,535.8 L685.1,550.8 L682.2,550.8 L682.2,565 L678,565 L678,580 L676.4,580 L676.4,595.3 L675.8,595.3 L675.8,608.2 L677.7,608.2 L677.7,623.7 L688.7,623.7 L688.7,628 L718.9,628 L718.9,623.7 L729.9,623.7 L729.9,608.2 L731.8,608.2 L731.8,595.3 L731.2,595.3 L731.2,580 L729.6,580 L729.6,565 L725.4,565 L725.4,550.8 L722.5,550.8 L722.5,535.8 L720.3,535.8 L720.3,520.8 L717.1,520.8 L717.1,507.9 L715,507.9 L715,492.9 L712.4,492.9 L712.4,478 L711.5,478 L711.5,462.3 L709.1,462.3 L709.1,448.2 L707.6,448.2 L707.6,434 L706.8,434 L706.8,419.1 L705.7,419.1 L705.7,404.2 L704.7,404.2 L704.7,392.4 L704.6,392.4 L704.6,352 L705.3,352 L705.3,343Z" fill="#808080"/>
<rect x="765.8" y="344" width="1.4" height="18" fill="#808080"/>
<rect x="765.8" y="434" width="1.4" height="13" fill="#808080"/>
<rect x="765.8" y="467" width="1.4" height="13" fill="#808080"/>
<rect x="765.8" y="494" width="1.4" height="12" fill="#808080"/>
<rect x="765.8" y="515" width="1.4" height="34" fill="#808080"/>
<path d="M762.7,548.4 L762.7,552.9 L759.2,552.9 L759.2,558 L762.7,558 L762.7,563.2 L764.5,563.2 L764.5,565.7 L763.6,567 L761.4,572 L760.1,578 L758.8,583.8 L758.8,583.8 L758.8,591.5 L756.2,591.5 L756.2,596.6 L753,596.6 L753,601.8 L745.3,601.8 L745.3,606.9 L738.9,606.9 L738.9,614.6 L743.4,614.6 L743.4,619.8 L748.5,619.8 L748.5,624.9 L757.5,624.9 L757.5,628 L775.5,628 L775.5,624.9 L784.5,624.9 L784.5,619.8 L789.6,619.8 L789.6,614.6 L794.1,614.6 L794.1,606.9 L787.7,606.9 L787.7,601.8 L780,601.8 L780,596.6 L776.8,596.6 L776.8,591.5 L774.2,591.5 L774.2,583.8 L774.2,583.8 L772.9,578 L771.6,572 L769.4,567 L768.5,565.7 L768.5,563.2 L770.3,563.2 L770.3,558 L773.8,558 L773.8,552.9 L770.3,552.9 L770.3,548.4Z" fill="#808080"/>
<line x1="515.2" y1="586" x2="515.2" y2="595.9" stroke="#000" stroke-width="1.6"/>
<line x1="515.2" y1="608" x2="515.2" y2="628" stroke="#000" stroke-width="1.6"/>
<line x1="512.2" y1="588.9" x2="518.2" y2="588.9" stroke="#000" stroke-width="1.4"/>
<line x1="512.2" y1="617.2" x2="518.2" y2="617.2" stroke="#000" stroke-width="1.4"/>
<rect x="508.7" y="595.9" width="13" height="12.1" rx="1" fill="none" stroke="#000" stroke-width="1.5"/>
<line x1="508.7" y1="601" x2="521.7" y2="601" stroke="#000" stroke-width="1.5"/>
<line x1="578" y1="596" x2="578" y2="611.4" stroke="#000" stroke-width="1.6"/>
<line x1="578" y1="623.1" x2="578" y2="628" stroke="#000" stroke-width="1.6"/>
<line x1="575" y1="602.7" x2="581" y2="602.7" stroke="#000" stroke-width="1.4"/>
<line x1="575" y1="627" x2="581" y2="627" stroke="#000" stroke-width="1.4"/>
<rect x="571.6" y="611.4" width="12.8" height="11.7" rx="1" fill="none" stroke="#000" stroke-width="1.5"/>
<line x1="571.6" y1="619.5" x2="584.4" y2="619.5" stroke="#000" stroke-width="1.5"/>
<line x1="640.85" y1="556.5" x2="640.85" y2="578" stroke="#000" stroke-width="1.6"/>
<line x1="640.85" y1="607.6" x2="640.85" y2="628" stroke="#000" stroke-width="1.6"/>
<line x1="637.85" y1="556.5" x2="643.85" y2="556.5" stroke="#000" stroke-width="1.4"/>
<line x1="637.85" y1="625.2" x2="643.85" y2="625.2" stroke="#000" stroke-width="1.4"/>
<rect x="634.4" y="578" width="12.9" height="29.6" rx="1" fill="none" stroke="#000" stroke-width="1.5"/>
<line x1="634.4" y1="592.8" x2="647.3" y2="592.8" stroke="#000" stroke-width="1.5"/>
<line x1="703.8" y1="424.6" x2="703.8" y2="493.3" stroke="#000" stroke-width="1.6"/>
<line x1="703.8" y1="603.4" x2="703.8" y2="623.5" stroke="#000" stroke-width="1.6"/>
<line x1="700.8" y1="424.6" x2="706.8" y2="424.6" stroke="#000" stroke-width="1.4"/>
<line x1="700.8" y1="623.5" x2="706.8" y2="623.5" stroke="#000" stroke-width="1.4"/>
<rect x="697.3" y="493.3" width="13" height="110.1" rx="1" fill="none" stroke="#000" stroke-width="1.5"/>
<line x1="697.3" y1="568" x2="710.3" y2="568" stroke="#000" stroke-width="1.5"/>
<line x1="766.75" y1="565.1" x2="766.75" y2="584.4" stroke="#000" stroke-width="1.6"/>
<line x1="766.75" y1="614.4" x2="766.75" y2="628" stroke="#000" stroke-width="1.6"/>
<line x1="763.75" y1="565.1" x2="769.75" y2="565.1" stroke="#000" stroke-width="1.4"/>
<line x1="763.75" y1="625.6" x2="769.75" y2="625.6" stroke="#000" stroke-width="1.4"/>
<rect x="760.1" y="584.4" width="13.3" height="30" rx="1" fill="none" stroke="#000" stroke-width="1.5"/>
<line x1="760.1" y1="604.4" x2="773.4" y2="604.4" stroke="#000" stroke-width="1.5"/>
<circle cx="515.2" cy="534" r="1.1" fill="#000"/>
<circle cx="515.2" cy="573.5" r="1.1" fill="#000"/>
<circle cx="578" cy="563.4" r="1.1" fill="#000"/>
<circle cx="578" cy="579.8" r="1.1" fill="#000"/>
<circle cx="578" cy="585.2" r="1.1" fill="#000"/>
<circle cx="578" cy="591.3" r="1.1" fill="#000"/>
<circle cx="641" cy="357" r="1.1" fill="#000"/>
<circle cx="641" cy="484" r="1.1" fill="#000"/>
<circle cx="641" cy="490" r="1.1" fill="#000"/>
<circle cx="641" cy="496" r="1.1" fill="#000"/>
<circle cx="641" cy="502" r="1.1" fill="#000"/>
<circle cx="641" cy="508" r="1.1" fill="#000"/>
<circle cx="641" cy="513" r="1.1" fill="#000"/>
<circle cx="641" cy="518" r="1.1" fill="#000"/>
<circle cx="641" cy="522" r="1.1" fill="#000"/>
<circle cx="641" cy="526" r="1.1" fill="#000"/>
<circle cx="641" cy="530" r="1.1" fill="#000"/>
<circle cx="641" cy="535" r="1.1" fill="#000"/>
<circle cx="641" cy="540" r="1.1" fill="#000"/>
<circle cx="641" cy="546" r="1.1" fill="#000"/>
<circle cx="641" cy="552" r="1.1" fill="#000"/>
<circle cx="703.8" cy="359" r="1.1" fill="#000"/>
<circle cx="703.8" cy="365" r="1.1" fill="#000"/>
<circle cx="703.8" cy="371" r="1.1" fill="#000"/>
<circle cx="703.8" cy="377" r="1.1" fill="#000"/>
<circle cx="703.8" cy="381" r="1.1" fill="#000"/>
<circle cx="766.5" cy="355.5" r="1.1" fill="#000"/>
<circle cx="766.5" cy="380.4" r="1.1" fill="#000"/>
<circle cx="766.5" cy="441" r="1.1" fill="#000"/>
<circle cx="766.5" cy="474" r="1.1" fill="#000"/>
<circle cx="766.5" cy="499.5" r="1.1" fill="#000"/>
<circle cx="766.5" cy="523" r="1.1" fill="#000"/>
<circle cx="766.5" cy="534" r="1.1" fill="#000"/>
<circle cx="766.5" cy="551" r="1.1" fill="#000"/>
<circle cx="766.5" cy="555" r="1.1" fill="#000"/>
<circle cx="766.5" cy="558" r="1.1" fill="#000"/>
<line x1="484.4" y1="392.1" x2="798.4" y2="392.1" stroke="#505050" stroke-width="1.5"/>
<line x1="484.4" y1="569" x2="487.4" y2="569" stroke="#505050" stroke-width="1.2"/>
<line x1="798.4" y1="569" x2="795.4" y2="569" stroke="#505050" stroke-width="1.2"/>
<line x1="484.4" y1="510" x2="487.4" y2="510" stroke="#505050" stroke-width="1.2"/>
<line x1="798.4" y1="510" x2="795.4" y2="510" stroke="#505050" stroke-width="1.2"/>
<line x1="484.4" y1="451" x2="487.4" y2="451" stroke="#505050" stroke-width="1.2"/>
<line x1="798.4" y1="451" x2="795.4" y2="451" stroke="#505050" stroke-width="1.2"/>
<line x1="515.2" y1="343" x2="515.2" y2="346" stroke="#505050" stroke-width="1.2"/>
<line x1="515.2" y1="628" x2="515.2" y2="625" stroke="#505050" stroke-width="1.2"/>
<line x1="578.1" y1="343" x2="578.1" y2="346" stroke="#505050" stroke-width="1.2"/>
<line x1="578.1" y1="628" x2="578.1" y2="625" stroke="#505050" stroke-width="1.2"/>
<line x1="641" y1="343" x2="641" y2="346" stroke="#505050" stroke-width="1.2"/>
<line x1="641" y1="628" x2="641" y2="625" stroke="#505050" stroke-width="1.2"/>
<line x1="704" y1="343" x2="704" y2="346" stroke="#505050" stroke-width="1.2"/>
<line x1="704" y1="628" x2="704" y2="625" stroke="#505050" stroke-width="1.2"/>
<line x1="766.7" y1="343" x2="766.7" y2="346" stroke="#505050" stroke-width="1.2"/>
<line x1="766.7" y1="628" x2="766.7" y2="625" stroke="#505050" stroke-width="1.2"/>
<rect x="484.4" y="343" width="314" height="285" fill="none" stroke="#505050" stroke-width="1.6"/>
<rect x="483.3" y="601.9" width="2" height="5" fill="#ffff00"/>
<line x1="484.4" y1="604.4" x2="797.6" y2="604.4" stroke="#ffff00" stroke-width="5" stroke-dasharray="16.95 16.95"/>
<rect x="482.9" y="355.75" width="3" height="1.5" fill="#fff"/>
<rect x="482.9" y="379.45" width="3" height="1.5" fill="#fff"/>
<text x="460.38" y="635.8" class="t">0</text>
<path d="M 469.49,612.2 L 469.49,594.83 L 467.78,594.83 C 467.36,596.4 465.65,597.7 462.71,597.87 L 462.71,599.46 C 464.79,599.46 466.38,598.85 467.31,597.87 L 467.31,612.2 Z" fill="#1c1c1c"/>
<text x="439.94" y="576.8" class="t">2</text>
<text x="453.57" y="576.8" class="t">.</text>
<text x="460.38" y="576.8" class="t">5</text>
<text x="460.38" y="517.8" class="t">5</text>
<text x="439.94" y="458.8" class="t">7</text>
<text x="453.57" y="458.8" class="t">.</text>
<text x="460.38" y="458.8" class="t">5</text>
<path d="M 455.87,399.9 L 455.87,382.53 L 454.15,382.53 C 453.74,384.1 452.02,385.4 449.08,385.57 L 449.08,387.16 C 451.17,387.16 452.76,386.55 453.69,385.57 L 453.69,399.9 Z" fill="#1c1c1c"/>
<text x="460.38" y="399.9" class="t">0</text>
<text x="454.26" y="356.5" class="t">5</text>
<text x="467.88" y="356.5" class="t">8</text>
<text transform="translate(429.8,624.9) rotate(-90)" class="t yl">mass-time ratio for PNC</text>
<text transform="translate(108,652.5) rotate(-45)" text-anchor="end" class="t xl">home</text>
<text transform="translate(168.4,654.5) rotate(-45)" text-anchor="end" class="t xl">work</text>
<text transform="translate(231.6,654) rotate(-45)" text-anchor="end" class="t xl">transit</text>
<text transform="translate(295.6,651.8) rotate(-45)" text-anchor="end" class="t xl">eatery</text>
<text transform="translate(358.5,653.3) rotate(-45)" text-anchor="end" class="t xl">other</text>
<text transform="translate(532.2,652.5) rotate(-45)" text-anchor="end" class="t xl">home</text>
<text transform="translate(592.6,654.5) rotate(-45)" text-anchor="end" class="t xl">work</text>
<text transform="translate(656,654) rotate(-45)" text-anchor="end" class="t xl">transit</text>
<text transform="translate(720.2,651.8) rotate(-45)" text-anchor="end" class="t xl">eatery</text>
<text transform="translate(783,653.3) rotate(-45)" text-anchor="end" class="t xl">other</text>
</g>
</svg>
</body></html>
